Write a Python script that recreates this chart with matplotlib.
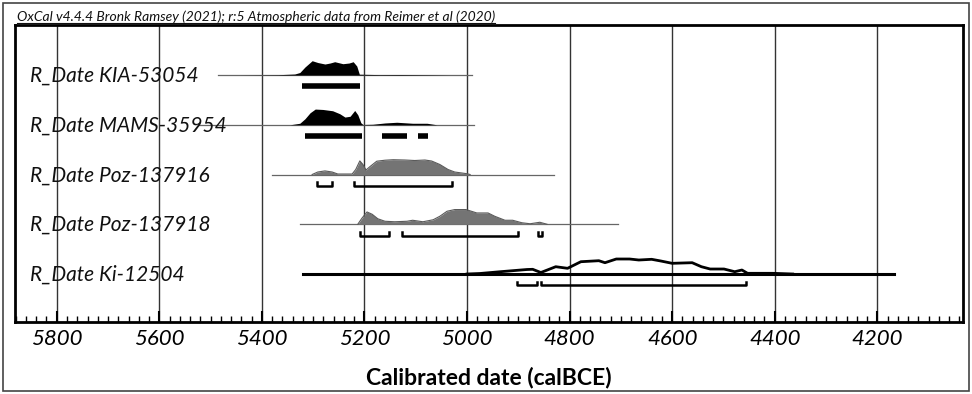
import numpy as np
import matplotlib.pyplot as plt
from matplotlib.ticker import MultipleLocator
from matplotlib.lines import Line2D
from matplotlib.patches import Rectangle

plt.rcParams['font.family'] = ['Lato', 'DejaVu Sans']

titulo = 'OxCal v4.4.4 Bronk Ramsey (2021); r:5 Atmospheric data from Reimer et al (2020)'
nomes = ['R_Date KIA-53054', 'R_Date MAMS-35954', 'R_Date Poz-137916',
         'R_Date Poz-137918', 'R_Date Ki-12504']
marcas = [5800, 5600, 5400, 5200, 5000, 4800, 4600, 4400, 4200]

# linha de base de cada datação (calBCE)
base_ini = [5486, 5525, 5381, 5326, 5320]
base_fim = [4990, 4986, 4831, 4706, 4168]

# distribuições calibradas (ano calBCE, densidade relativa)
kia_anos = [5443, 5369, 5336, 5326, 5316, 5302, 5291, 5277, 5267, 5258, 5242, 5230,
            5222, 5215, 5210, 5170, 5131, 5066, 5033]
kia_dens = [0, 0.3, 1, 2.5, 8, 14.3, 12.5, 11, 12, 13.3, 11.3, 12, 13.3, 9, 0.8,
            0.4, 0.5, 0.2, 0]

mams_anos = [5345, 5326, 5316, 5306, 5296, 5281, 5262, 5248, 5238, 5228, 5219, 5213,
             5207, 5203, 5184, 5160, 5137, 5106, 5078, 5059]
mams_dens = [0, 1.5, 6, 12, 15.7, 15.3, 14, 11, 7.7, 8.5, 14.3, 10, 2, 0.3, 0.5,
             1.8, 2.5, 1.5, 1.5, 0]

poz16_anos = [5302, 5291, 5277, 5263, 5252, 5224, 5217, 5209, 5203, 5197, 5189, 5176,
              5160, 5144, 5121, 5102, 5082, 5069, 5053, 5037, 5024, 5000, 4994]
poz16_dens = [0, 2.5, 3.6, 2.5, 0.5, 0.5, 5, 13.6, 10, 4.5, 8, 13.3, 14.3, 14.8,
              14.5, 14, 14.5, 13.5, 10, 5, 2.5, 0.8, 0]

poz18_anos = [5213, 5205, 5195, 5185, 5174, 5160, 5141, 5117, 5106, 5086, 5066, 5053,
              5039, 5024, 5002, 4981, 4959, 4946, 4926, 4911, 4893, 4877, 4858, 4844]
poz18_dens = [0, 6, 12.3, 10, 5.5, 3, 2.5, 3, 4, 2.5, 4.5, 8, 13, 14.7, 14.7, 11.3,
              11.3, 8, 4, 4, 1.5, 0.5, 2, 0]

ki_anos = [5000, 4975, 4935, 4883, 4872, 4856, 4827, 4804, 4778, 4743, 4731, 4709,
           4683, 4665, 4640, 4622, 4600, 4561, 4543, 4526, 4499, 4478, 4464, 4453,
           4404, 4365]
ki_dens = [0, 0.5, 2.3, 4.5, 4.7, 1.5, 7.3, 5.7, 12.3, 13.3, 11.3, 15, 15, 14, 14.7,
           13, 10.7, 11.3, 7.3, 5, 5, 2.3, 4, 0.7, 0.7, 0]

# intervalos de 95.4%
kia_int = [(5322, 5209)]
mams_int = [(5316, 5205), (5166, 5117), (5096, 5076)]
poz16_int = [(5293, 5264), (5220, 5030)]
poz18_int = [(5209, 5152), (5126, 4901), (4861, 4853)]
ki_int = [(4903, 4864), (4855, 4456)]

anos = [kia_anos, mams_anos, poz16_anos, poz18_anos, ki_anos]
dens = [kia_dens, mams_dens, poz16_dens, poz18_dens, ki_dens]
intervalos = [kia_int, mams_int, poz16_int, poz18_int, ki_int]
estilo = ['preto', 'preto', 'cinza', 'cinza', 'linha']

escala = 1 / 49.75   # densidade -> altura em linhas
desl = 0.23          # distância entre base e intervalos

fig = plt.figure(figsize=(9.72, 3.94), dpi=100)
ax = fig.add_axes([0.0151, 0.1827, 0.9756, 0.7538])

for i in range(5):
    x = np.array(anos[i])
    y = i - np.array(dens[i]) * escala
    if estilo[i] == 'linha':
        ax.plot([base_ini[i], base_fim[i]], [i, i], color='black', lw=2.2, zorder=3)
        ax.plot(x, y, color='black', lw=2, zorder=4)
    else:
        ax.plot([base_ini[i], base_fim[i]], [i, i], color='#666666', lw=0.9, zorder=3)
        cor = 'black' if estilo[i] == 'preto' else '#747474'
        ax.fill_between(x, i, y, color=cor, lw=0, zorder=4)
        if estilo[i] == 'cinza':
            ax.plot(x, y, color='#5a5a5a', lw=0.8, zorder=4)
    yb = i + desl
    for a, b in intervalos[i]:
        if estilo[i] == 'preto':
            ax.plot([a, b], [yb, yb], color='black', lw=4, solid_capstyle='butt', zorder=4)
        else:
            ax.plot([a, a, b, b], [yb - 0.07, yb, yb, yb - 0.07], color='black',
                    lw=1.8, zorder=4)
    ax.text(5852, i + 0.135, nomes[i], fontsize=15, style='italic', va='baseline',
            ha='left', color='#111111', zorder=5)

ax.set_xlim(5882, 4033)
ax.set_ylim(4.965, -1.005)
ax.set_xticks(marcas, labels=[str(m) for m in marcas], fontstyle='italic', fontsize=16)
ax.xaxis.set_minor_locator(MultipleLocator(20))
ax.set_yticks([])
ax.grid(axis='x', which='major', color='#333333', lw=1, zorder=1)
ax.tick_params(axis='x', which='major', direction='in', length=8, width=1.5,
               pad=5, top=False)
ax.tick_params(axis='x', which='minor', direction='in', length=4, width=1, top=False)
for s in ax.spines.values():
    s.set_linewidth(2)
    s.set_color('black')
ax.set_xlabel('Calibrated date (calBCE)', fontsize=16.5, fontweight='bold', labelpad=13)

# título sublinhado
t = fig.text(17 / 972, 1 - 21 / 394, titulo, fontsize=10, style='italic',
             va='baseline', ha='left', color='#111111')
fig.canvas.draw()
bb = t.get_window_extent().transformed(fig.transFigure.inverted())
fig.add_artist(Line2D([bb.x0, bb.x1], [1 - 22.5 / 394] * 2, transform=fig.transFigure,
                      color='#111111', lw=0.8))

# moldura externa
fig.add_artist(Rectangle((3 / 972, 3 / 394), 966 / 972, 388 / 394,
                         transform=fig.transFigure, fill=False, ec='#444444', lw=1.2))

fig.savefig('out.png', dpi=100)
